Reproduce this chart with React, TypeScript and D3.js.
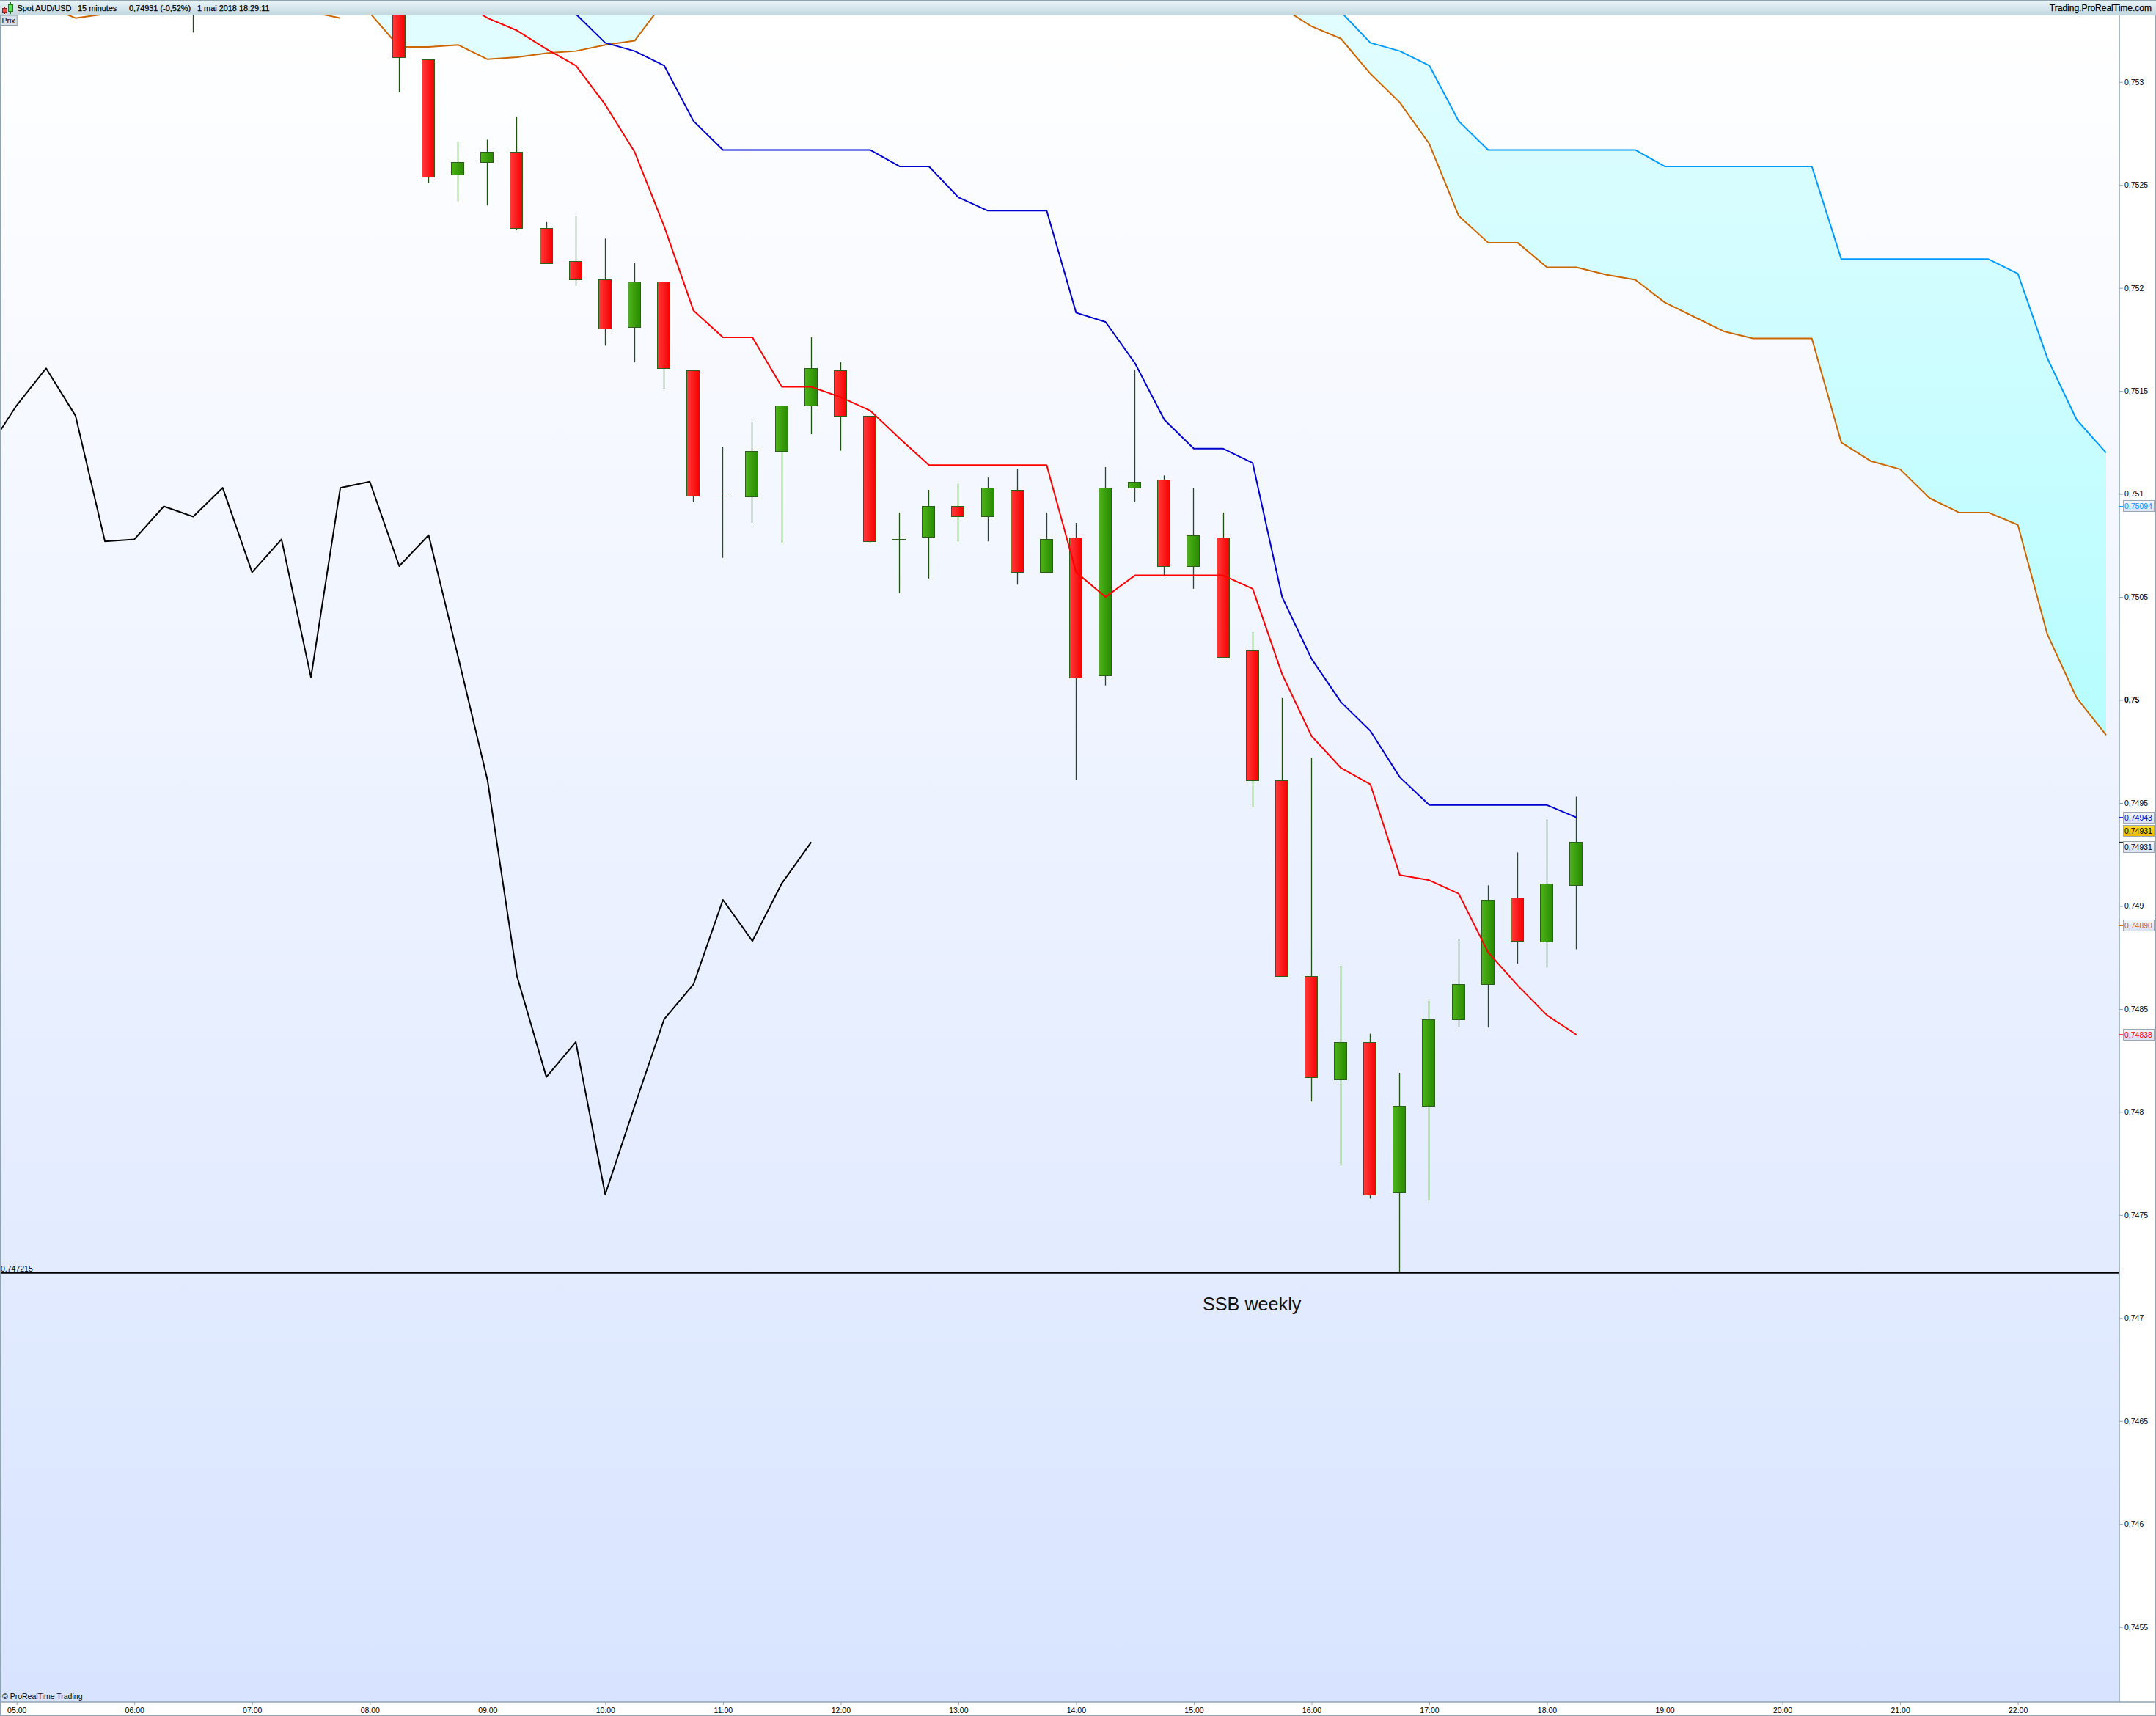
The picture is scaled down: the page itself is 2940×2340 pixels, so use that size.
import * as d3 from "d3";
import { useEffect, useRef } from "react";

const WIDTH = 2940;
const HEIGHT = 2340;
const FONT = "'Liberation Sans', Arial, sans-serif";

const candleTimes = ["06:30", "08:15", "08:30", "08:45", "09:00", "09:15", "09:30", "09:45", "10:00", "10:15", "10:30", "10:45", "11:00", "11:15", "11:30", "11:45", "12:00", "12:15", "12:30", "12:45", "13:00", "13:15", "13:30", "13:45", "14:00", "14:15", "14:30", "14:45", "15:00", "15:15", "15:30", "15:45", "16:00", "16:15", "16:30", "16:45", "17:00", "17:15", "17:30", "17:45", "18:00", "18:15"];
const opens = [0.75345, 0.75345, 0.75311, 0.75255, 0.75261, 0.75266, 0.75229, 0.75213, 0.75204, 0.75181, 0.75203, 0.7516, 0.75099, 0.75099, 0.75121, 0.75143, 0.7516, 0.75138, 0.75078, 0.75079, 0.75094, 0.75089, 0.75102, 0.75062, 0.75079, 0.75012, 0.75103, 0.75107, 0.75065, 0.75079, 0.75024, 0.74961, 0.74866, 0.74816, 0.74834, 0.74761, 0.74803, 0.74845, 0.74862, 0.74904, 0.74883, 0.7491];
const highs = [0.75352, 0.7535, 0.75311, 0.75271, 0.75272, 0.75283, 0.75232, 0.75235, 0.75224, 0.75212, 0.75203, 0.7516, 0.75123, 0.75135, 0.75143, 0.75176, 0.75164, 0.75138, 0.75091, 0.75102, 0.75105, 0.75108, 0.75112, 0.75091, 0.75086, 0.75113, 0.7516, 0.75109, 0.75103, 0.75091, 0.75033, 0.75001, 0.74972, 0.74871, 0.74838, 0.74819, 0.74854, 0.74884, 0.7491, 0.74926, 0.74942, 0.74953];
const lows = [0.75324, 0.75295, 0.75251, 0.75242, 0.7524, 0.75228, 0.75212, 0.75201, 0.75172, 0.75164, 0.75151, 0.75096, 0.75069, 0.75086, 0.75076, 0.75129, 0.75121, 0.75076, 0.75052, 0.75059, 0.75077, 0.75077, 0.75056, 0.75062, 0.74961, 0.75007, 0.75096, 0.7506, 0.75054, 0.75021, 0.74948, 0.74866, 0.74805, 0.74774, 0.74758, 0.74722, 0.74757, 0.74841, 0.74841, 0.74872, 0.7487, 0.74879];
const closes = [0.7534, 0.75312, 0.75254, 0.75261, 0.75266, 0.75229, 0.75212, 0.75204, 0.7518, 0.75203, 0.75161, 0.75099, 0.75099, 0.75121, 0.75143, 0.75161, 0.75138, 0.75077, 0.75078, 0.75094, 0.75089, 0.75103, 0.75062, 0.75078, 0.75011, 0.75103, 0.75106, 0.75065, 0.7508, 0.75021, 0.74961, 0.74866, 0.74817, 0.74834, 0.7476, 0.74803, 0.74845, 0.74862, 0.74903, 0.74883, 0.74911, 0.74931];

// lagging line, starts one bar before 05:00
const chikouStart = "04:45";
const chikou = [0.75121, 0.75143, 0.75161, 0.75138, 0.75077, 0.75078, 0.75094, 0.75089, 0.75103, 0.75062, 0.75078, 0.75011, 0.75103, 0.75106, 0.75065, 0.7508, 0.75021, 0.74961, 0.74866, 0.74817, 0.74834, 0.7476, 0.74803, 0.74845, 0.74862, 0.74903, 0.74883, 0.74911, 0.74931];

const tenkanStart = "08:45";
const tenkan = [0.7534, 0.75331, 0.75325, 0.75316, 0.75308, 0.75289, 0.75266, 0.7523, 0.75189, 0.75176, 0.75176, 0.75152, 0.75152, 0.75147, 0.751405, 0.75127, 0.75114, 0.75114, 0.75114, 0.75114, 0.75114, 0.75062, 0.7505, 0.750605, 0.750605, 0.750605, 0.750605, 0.75054, 0.750125, 0.749825, 0.74967, 0.74959, 0.74915, 0.749125, 0.74906, 0.748775, 0.748615, 0.74847, 0.748375];

const kijunStart = "09:30";
const kijun = [0.7535, 0.75333, 0.75319, 0.75315, 0.75308, 0.75281, 0.75267, 0.75267, 0.75267, 0.75267, 0.75267, 0.75267, 0.75259, 0.75259, 0.75244, 0.752375, 0.752375, 0.752375, 0.75188, 0.751835, 0.751635, 0.75136, 0.75122, 0.75122, 0.75115, 0.7505, 0.7502, 0.74999, 0.74985, 0.749625, 0.74949, 0.74949, 0.74949, 0.74949, 0.74949, 0.74943];

// span B, the first stretch only grazes the top edge of the chart
const spanBEarlyStart = "05:15";
const spanBEarly = [0.75337, 0.75331, 0.75333, 0.75345, 0.7535, 0.7535, 0.7535, 0.7535, 0.75345, 0.75334, 0.75331];

const cloudStart = "08:00";
const spanB = [0.753335, 0.75317, 0.75317, 0.75318, 0.75311, 0.75312, 0.75314, 0.75315, 0.75318, 0.7532, 0.75339, 0.75355, 0.7536, 0.7536, 0.7536, 0.7536, 0.7536, 0.7536, 0.7536, 0.7536, 0.7536, 0.7536, 0.7536, 0.7536, 0.7536, 0.7536, 0.7536, 0.7536, 0.7536, 0.7536, 0.7535, 0.75336, 0.75327, 0.75321, 0.75304, 0.7529, 0.7527, 0.75235, 0.75222, 0.75222, 0.7521, 0.7521, 0.752065, 0.75204, 0.75193, 0.75186, 0.75179, 0.751755, 0.751755, 0.751755, 0.75125, 0.75116, 0.75112, 0.75098, 0.75091, 0.75091, 0.75085, 0.75032, 0.75001, 0.74983];
const spanA = [0.7542, 0.7542, 0.7542, 0.7542, 0.7542, 0.7542, 0.7542, 0.7542, 0.7542, 0.7542, 0.7542, 0.7542, 0.7542, 0.7542, 0.7542, 0.7542, 0.7542, 0.7542, 0.7542, 0.7542, 0.7542, 0.7542, 0.7542, 0.7542, 0.7542, 0.7542, 0.7542, 0.7542, 0.7542, 0.7542, 0.7542, 0.7538, 0.7536, 0.75334, 0.75319, 0.75315, 0.75308, 0.75281, 0.75267, 0.75267, 0.75267, 0.75267, 0.75267, 0.75267, 0.75259, 0.75259, 0.75259, 0.75259, 0.75259, 0.75259, 0.75214, 0.75214, 0.75214, 0.75214, 0.75214, 0.75214, 0.75207, 0.75166, 0.75136, 0.7512];

const priceTicks = [0.753, 0.7525, 0.752, 0.7515, 0.751, 0.7505, 0.75, 0.7495, 0.749, 0.7485, 0.748, 0.7475, 0.747, 0.7465, 0.746, 0.7455];
const timeTicks = ["05:00", "06:00", "07:00", "08:00", "09:00", "10:00", "11:00", "12:00", "13:00", "14:00", "15:00", "16:00", "17:00", "18:00", "19:00", "20:00", "21:00", "22:00"];

const markerValues = [0.75094, 0.74943, 0.748904, 0.748376];
const markerColors = ["#0099ff", "#0000d0", "#cc6600", "#ff0000"];
const lastPrice = 0.74931;

const ssbLevel = 0.74722;
const ssbLabel = "0,747215";

const parseTime = d3.timeParse("%H:%M");
const t = (s: string) => parseTime(s) as Date;
const series = (start: string, values: number[]) =>
  values.map((v, i) => ({ time: d3.timeMinute.offset(t(start), i * 15), value: v }));
const comma = (v: number) => String(v).replace(".", ",");

export default function App() {
  const svgRef = useRef<SVGSVGElement>(null);

  useEffect(() => {
    if (!svgRef.current) return;
    const svg = d3.select(svgRef.current);
    svg.selectAll("*").remove();

    const plotLeft = 1;
    const plotRight = 2890;
    const plotTop = 21;
    const plotBottom = 2321;

    const x = d3.scaleTime().domain([t("05:00"), t("22:45")]).range([22.7, 2872]);
    const y = d3.scaleLinear().domain([0.7495, 0.7455]).range([1095, 2218.7]);

    const defs = svg.append("defs");
    const gradient = (id: string, stops: [string, string], horizontal: boolean, user?: [number, number]) => {
      const g = defs.append("linearGradient").attr("id", id)
        .attr("x1", 0).attr("y1", 0)
        .attr("x2", horizontal ? 1 : 0).attr("y2", horizontal ? 0 : 1);
      if (user) {
        g.attr("gradientUnits", "userSpaceOnUse").attr("x1", 0).attr("x2", 0).attr("y1", user[0]).attr("y2", user[1]);
      }
      g.append("stop").attr("offset", 0).attr("stop-color", stops[0]);
      g.append("stop").attr("offset", 1).attr("stop-color", stops[1]);
    };
    gradient("bg", ["#ffffff", "#d8e4ff"], false);
    gradient("titlebar", ["#eaf7fb", "#c4d7df"], false);
    gradient("cloud", ["#e2fdff", "#b6fdff"], false, [21, 1010]);
    gradient("upBody", ["#4fb31a", "#288a00"], true);
    gradient("downBody", ["#ff3b3b", "#f60000"], true);
    gradient("markerBox", ["#f4f6fd", "#d8e0f4"], false);
    gradient("lastBox", ["#ffdc2a", "#f2b600"], false);
    defs.append("clipPath").attr("id", "plot").append("rect")
      .attr("x", plotLeft).attr("y", plotTop)
      .attr("width", plotRight - plotLeft).attr("height", plotBottom - plotTop);

    svg.append("rect").attr("width", WIDTH).attr("height", HEIGHT).attr("fill", "#ffffff");
    svg.append("rect").attr("x", plotLeft).attr("y", plotTop)
      .attr("width", plotRight - plotLeft).attr("height", plotBottom - plotTop).attr("fill", "url(#bg)");

    const plot = svg.append("g").attr("clip-path", "url(#plot)");

    // cloud
    const cloudA = series(cloudStart, spanA);
    const cloudB = series(cloudStart, spanB);
    const area = d3.area<{ time: Date; value: number }>()
      .x(d => x(d.time))
      .y0((_, i) => y(cloudB[i].value))
      .y1(d => y(d.value));
    plot.append("path").datum(cloudA).attr("fill", "url(#cloud)").attr("d", area);

    const line = d3.line<{ time: Date; value: number }>().x(d => x(d.time)).y(d => y(d.value));
    const drawLine = (data: { time: Date; value: number }[], color: string, width: number) =>
      plot.append("path").datum(data).attr("fill", "none").attr("stroke", color)
        .attr("stroke-width", width).attr("stroke-linejoin", "round").attr("d", line);

    drawLine(series(spanBEarlyStart, spanBEarly), "#cc6600", 2);
    drawLine(cloudB, "#cc6600", 2);
    drawLine(cloudA, "#0099ff", 2);

    // candles
    const candles = candleTimes.map((time, i) => ({
      time: t(time), open: opens[i], high: highs[i], low: lows[i], close: closes[i],
    }));
    const cg = plot.append("g");
    cg.selectAll("line").data(candles).enter().append("line")
      .attr("x1", d => Math.floor(x(d.time)) + 0.5)
      .attr("x2", d => Math.floor(x(d.time)) + 0.5)
      .attr("y1", d => y(d.high))
      .attr("y2", d => y(d.low))
      .attr("stroke", "#1f5212").attr("stroke-width", 1.3);
    cg.selectAll("rect").data(candles).enter().append("rect")
      .attr("x", d => Math.floor(x(d.time)) - 8.5)
      .attr("width", 17)
      .attr("y", d => Math.round(y(Math.max(d.open, d.close))) + 0.5)
      .attr("height", d => Math.max(0.01, Math.round(Math.abs(y(d.open) - y(d.close)))))
      .attr("fill", d => (d.close > d.open ? "url(#upBody)" : "url(#downBody)"))
      .attr("stroke", "#2c5f1c").attr("stroke-width", 1);

    drawLine(series(kijunStart, kijun), "#0000d0", 2);
    drawLine(series(tenkanStart, tenkan), "#ff0000", 2);
    drawLine(series(chikouStart, chikou), "#000000", 2);

    // weekly level
    svg.append("line").attr("x1", plotLeft).attr("x2", plotRight)
      .attr("y1", y(ssbLevel)).attr("y2", y(ssbLevel))
      .attr("stroke", "#000000").attr("stroke-width", 2.5);
    svg.append("text").attr("x", 1).attr("y", y(ssbLevel) - 2)
      .attr("font-family", FONT).attr("font-size", 10.5).attr("fill", "#000").text(ssbLabel);
    svg.append("text").attr("x", 1640).attr("y", 1787)
      .attr("font-family", FONT).attr("font-size", 25.2).attr("fill", "#111").text("SSB weekly");

    svg.append("text").attr("x", 3).attr("y", 2317)
      .attr("font-family", FONT).attr("font-size", 10.5).attr("fill", "#000").text("© ProRealTime Trading");

    // price axis
    const yAxis = d3.axisRight(y).tickValues(priceTicks).tickSize(5).tickPadding(2).tickFormat(d => comma(d as number));
    const yg = svg.append("g").attr("transform", `translate(${plotRight},0)`).call(yAxis);
    yg.select(".domain").remove();
    yg.selectAll("line").attr("stroke", "#8fa3b0");
    yg.selectAll("text").attr("font-family", FONT).attr("font-size", 10.5).attr("fill", "#000")
      .attr("font-weight", d => ((d as number) === 0.75 ? "bold" : "normal"));

    // time axis
    const xAxis = d3.axisBottom(x).tickValues(timeTicks.map(t)).tickSize(4).tickPadding(4)
      .tickFormat(d => d3.timeFormat("%H:%M")(d as Date));
    const xg = svg.append("g").attr("transform", `translate(0,${plotBottom})`).call(xAxis);
    xg.select(".domain").remove();
    xg.selectAll("line").attr("stroke", "#8fa3b0");
    xg.selectAll("text").attr("font-family", FONT).attr("font-size", 10.5).attr("fill", "#000");

    // frame
    const frame = "#8fa3b0";
    const rule = (x1: number, y1: number, x2: number, y2: number, w = 1.5) =>
      svg.append("line").attr("x1", x1).attr("y1", y1).attr("x2", x2).attr("y2", y2)
        .attr("stroke", frame).attr("stroke-width", w);
    rule(0.75, 21, 0.75, 2339);
    rule(plotRight, 21, plotRight, 2321);
    rule(0, plotBottom, WIDTH, plotBottom);
    rule(2939.25, 21, 2939.25, 2339);
    rule(0, 2339.25, WIDTH, 2339.25);

    // value boxes
    const box = (cy: number, label: string, color: string, fill: string) => {
      svg.append("rect").attr("x", 2895.5).attr("y", Math.round(cy) - 7.5).attr("width", 42).attr("height", 15)
        .attr("fill", fill).attr("stroke", "#9aa9b5").attr("stroke-width", 1);
      svg.append("text").attr("x", 2897).attr("y", Math.round(cy)).attr("dy", "0.36em")
        .attr("font-family", FONT).attr("font-size", 10.5).attr("fill", color).text(label);
    };
    const fmt5 = (v: number) => v.toFixed(5).replace(".", ",");
    markerValues.forEach((v, i) => {
      svg.append("line").attr("x1", plotRight).attr("x2", 2895).attr("y1", y(v)).attr("y2", y(v))
        .attr("stroke", markerColors[i]).attr("stroke-width", 1);
      box(y(v), fmt5(v), markerColors[i], "url(#markerBox)");
    });
    svg.append("line").attr("x1", plotRight).attr("x2", 2895).attr("y1", y(lastPrice)).attr("y2", y(lastPrice))
      .attr("stroke", "#000").attr("stroke-width", 1);
    box(y(lastPrice) + 7, fmt5(lastPrice), "#000", "url(#markerBox)");
    box(y(lastPrice) - 15, fmt5(lastPrice), "#000", "url(#lastBox)");

    // title bar
    svg.append("rect").attr("x", 0).attr("y", 0).attr("width", WIDTH).attr("height", 20.5)
      .attr("fill", "url(#titlebar)");
    rule(0, 0.5, WIDTH, 0.5, 1);
    rule(0, 20.5, WIDTH, 20.5, 1.2);
    const titleParts: [number, string][] = [
      [23.5, "Spot AUD/USD"], [106, "15 minutes"], [176, "0,74931 (-0,52%)"], [269, "1 mai 2018 18:29:11"],
    ];
    titleParts.forEach(([tx, label]) => {
      svg.append("text").attr("x", tx).attr("y", 15)
        .attr("font-family", FONT).attr("font-size", 10.9).attr("fill", "#000")
        .attr("stroke", "#000").attr("stroke-width", 0.25).text(label);
    });
    svg.append("text").attr("x", 2934).attr("y", 15).attr("text-anchor", "end")
      .attr("font-family", FONT).attr("font-size", 12).attr("fill", "#000")
      .attr("stroke", "#000").attr("stroke-width", 0.25).text("Trading.ProRealTime.com");

    // small candle icon in the title bar
    const icon = svg.append("g");
    icon.append("line").attr("x1", 6.5).attr("x2", 6.5).attr("y1", 9).attr("y2", 19).attr("stroke", "#8a2020");
    icon.append("rect").attr("x", 3.5).attr("y", 11.5).attr("width", 6).attr("height", 6).attr("fill", "#e84a4a").attr("stroke", "#8a2020");
    icon.append("line").attr("x1", 14.5).attr("x2", 14.5).attr("y1", 3).attr("y2", 19).attr("stroke", "#1f7a1f");
    icon.append("rect").attr("x", 11.5).attr("y", 6.5).attr("width", 6).attr("height", 9).attr("fill", "#5ce05c").attr("stroke", "#1f7a1f");

    // Prix tab
    svg.append("rect").attr("x", 0.75).attr("y", 21).attr("width", 22.5).attr("height", 13.5)
      .attr("fill", "#d8e1e8").attr("stroke", frame).attr("stroke-width", 1);
    svg.append("text").attr("x", 2.5).attr("y", 31.5)
      .attr("font-family", FONT).attr("font-size", 10.5).attr("fill", "#000").text("Prix");
  }, []);

  return (
    <svg
      ref={svgRef}
      width={WIDTH}
      height={HEIGHT}
      style={{ position: "absolute", left: 0, top: 0, display: "block" }}
    />
  );
}
